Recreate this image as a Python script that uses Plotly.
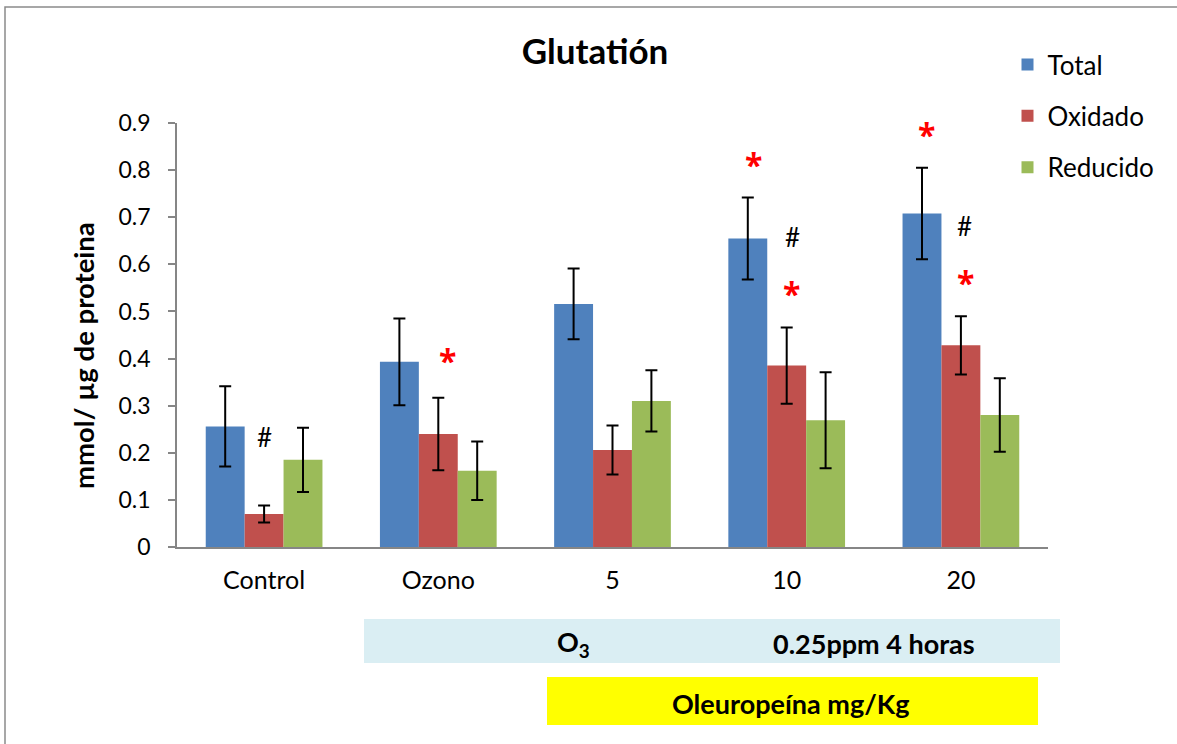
import plotly.graph_objects as go

# Data
categories = ["Control", "Ozono", "5", "10", "20"]
total = [0.256, 0.393, 0.516, 0.655, 0.708]
total_err = [0.085, 0.092, 0.075, 0.087, 0.097]
oxidado = [0.070, 0.240, 0.206, 0.385, 0.428]
oxidado_err = [0.018, 0.077, 0.052, 0.081, 0.062]
reducido = [0.185, 0.162, 0.310, 0.269, 0.280]
reducido_err = [0.068, 0.062, 0.065, 0.102, 0.078]

series_names = ["Total", "Oxidado", "Reducido"]
series_colors = ["#4F81BD", "#C0504D", "#9BBB59"]

# Significance marks: (label, x position in category units, y value, colour)
marks = [
    ("#", 0.00, 0.233, "black"),
    ("*", 1.05, 0.403, "red"),
    ("*", 2.81, 0.818, "red"),
    ("#", 3.035, 0.659, "black"),
    ("*", 3.03, 0.544, "red"),
    ("*", 3.80, 0.883, "red"),
    ("#", 4.02, 0.681, "black"),
    ("*", 4.027, 0.567, "red"),
]

FONT = "Lato, 'Open Sans', sans-serif"
STAR_FONT = "'Open Sans', 'DejaVu Sans', sans-serif"

fig = go.Figure()
for name, vals, errs, col in zip(series_names, [total, oxidado, reducido],
                                 [total_err, oxidado_err, reducido_err], series_colors):
    fig.add_trace(go.Bar(
        name=name, x=categories, y=vals, marker_color=col,
        marker_line_width=0, legendgroup=name,
        error_y=dict(type="data", array=errs, visible=True,
                     color="black", thickness=2, width=6),
    ))

annotations = []
for txt, xv, yv, col in marks:
    star = txt == "*"
    annotations.append(dict(
        x=xv, y=yv, xref="x", yref="y", text=txt, showarrow=False,
        xanchor="center", yanchor="middle",
        font=dict(family=STAR_FONT if star else FONT, size=32 if star else 26,
                  color=col, weight="bold" if star else "normal"),
        yshift=-3 if star else 0,
    ))

# Y axis title
annotations.append(dict(
    x=(83 - 177) / 871, y=(547 - 356) / 424, xref="paper", yref="paper",
    text="<b>mmol/ µg de proteina</b>", textangle=-90, showarrow=False,
    xanchor="center", yanchor="middle",
    font=dict(family=FONT, size=27.5, color="black"),
))

# Treatment labels under the axis
label_font = dict(family=FONT, size=27, color="black")
annotations += [
    dict(x=(573 - 177) / 871, y=(547 - 643) / 424, xref="paper", yref="paper",
         text="<b>O<sub>3</sub></b>", showarrow=False,
         xanchor="center", yanchor="middle", font=label_font),
    dict(x=(874 - 177) / 871, y=(547 - 643) / 424, xref="paper", yref="paper",
         text="<b>0.25ppm 4 horas</b>", showarrow=False,
         xanchor="center", yanchor="middle", font=label_font),
    dict(x=(790 - 177) / 871, y=(547 - 703) / 424, xref="paper", yref="paper",
         text="<b>Oleuropeína mg/Kg</b>", showarrow=False,
         xanchor="center", yanchor="middle", font=label_font),
]

shapes = [
    # outer chart border
    dict(type="rect", xref="paper", yref="paper",
         x0=(5 - 177) / 871, x1=1.3, y0=(547 - 7) / 424, y1=-0.6,
         line=dict(color="#8A8A8A", width=1.5), fillcolor="rgba(0,0,0,0)", layer="below"),
    # ozone exposure band
    dict(type="rect", xref="paper", yref="paper",
         x0=(364 - 177) / 871, x1=(1060 - 177) / 871,
         y0=(547 - 619) / 424, y1=(547 - 663) / 424,
         line=dict(width=0), fillcolor="#DAEEF3", layer="below"),
    # oleuropein dose band
    dict(type="rect", xref="paper", yref="paper",
         x0=(547 - 177) / 871, x1=(1038 - 177) / 871,
         y0=(547 - 677) / 424, y1=(547 - 725) / 424,
         line=dict(width=0), fillcolor="#FFFF00", layer="below"),
]

fig.update_layout(
    width=1177, height=744,
    margin=dict(l=177, r=129, t=123, b=197),
    paper_bgcolor="white", plot_bgcolor="white",
    barmode="group", bargap=0.33, bargroupgap=0,
    font=dict(family=FONT, size=24, color="black"),
    title=dict(text="<b>Glutatión</b>", x=595 / 1177, xanchor="center",
               y=1 - 52 / 744, yanchor="middle",
               font=dict(family=FONT, size=35, color="black")),
    legend=dict(x=0.9535, xanchor="left", y=1.193, yanchor="top",
                traceorder="grouped", tracegroupgap=14.5,
                font=dict(family=FONT, size=26, color="black"),
                bgcolor="rgba(0,0,0,0)"),
    annotations=annotations,
    shapes=shapes,
    showlegend=True,
)
fig.update_xaxes(
    showline=True, linecolor="#868686", linewidth=1.5, showgrid=False,
    ticks="", ticklabelstandoff=10, tickfont=dict(family=FONT, size=25),
)
fig.update_yaxes(
    range=[0, 0.9], dtick=0.1, showline=True, linecolor="#868686", linewidth=1.5,
    showgrid=False, zeroline=False, ticks="outside", ticklen=7, tickcolor="#868686",
    tickwidth=1.5, ticklabelstandoff=13, tickfont=dict(family=FONT, size=23),
)

fig.write_html("out.html")
